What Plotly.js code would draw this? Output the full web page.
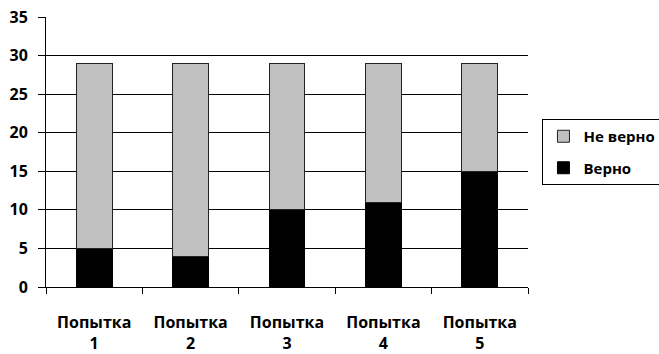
<!DOCTYPE html>
<html><head><meta charset="utf-8">
<script src="https://cdn.plot.ly/plotly-3.0.1.min.js"></script>
<style>body{margin:0;background:#fff}#c{width:659px;height:354px}</style>
</head><body><div id="c"></div>
<script>
const categories = ["Попытка<br>1","Попытка<br>2","Попытка<br>3","Попытка<br>4","Попытка<br>5"];
const correct = [5, 4, 10, 11, 15];
const incorrect = [24, 25, 19, 18, 14];
const yTicks = [0,5,10,15,20,25,30,35];
const font = {family: "Open Sans", size: 16, color: "#000", weight: "bold"};
const legFont = {family: "Open Sans", size: 15, color: "#000", weight: "bold"};

const traces = [
  {type:"bar", name:"Верно", x:categories, y:correct, legendgroup:"a", legendrank:2,
   marker:{color:"#000000", line:{color:"#000", width:1}}, width:0.37},
  {type:"bar", name:"Не верно", x:categories, y:incorrect, legendgroup:"b", legendrank:1,
   marker:{color:"#c0c0c0", line:{color:"#222", width:1}}, width:0.37}
];
const layout = {
  width:659, height:354,
  margin:{l:46, r:131, t:17, b:67, autoexpand:false},
  barmode:"stack",
  paper_bgcolor:"#fff", plot_bgcolor:"#fff",
  font: font,
  xaxis:{type:"category", tickson:"boundaries", ticks:"outside", ticklen:6, tickcolor:"#000",
         showline:true, linecolor:"#000", linewidth:1, showgrid:false, tickfont:font,
         ticklabelstandoff:21},
  yaxis:{range:[0,35], tickvals:yTicks, ticks:"outside", ticklen:7, tickcolor:"#000",
         showline:true, linecolor:"#000", linewidth:1, showgrid:true, gridcolor:"#000", gridwidth:1,
         zeroline:false, tickfont:font, ticklabelstandoff:7},
  legend:{x:1.03, xanchor:"left", y:0.5, yanchor:"middle", traceorder:"grouped",
          bordercolor:"#000", borderwidth:1, font:legFont, tracegroupgap:9},
  showlegend:true
};
Plotly.newPlot("c", traces, layout, {displayModeBar:false, staticPlot:true});
</script></body></html>
